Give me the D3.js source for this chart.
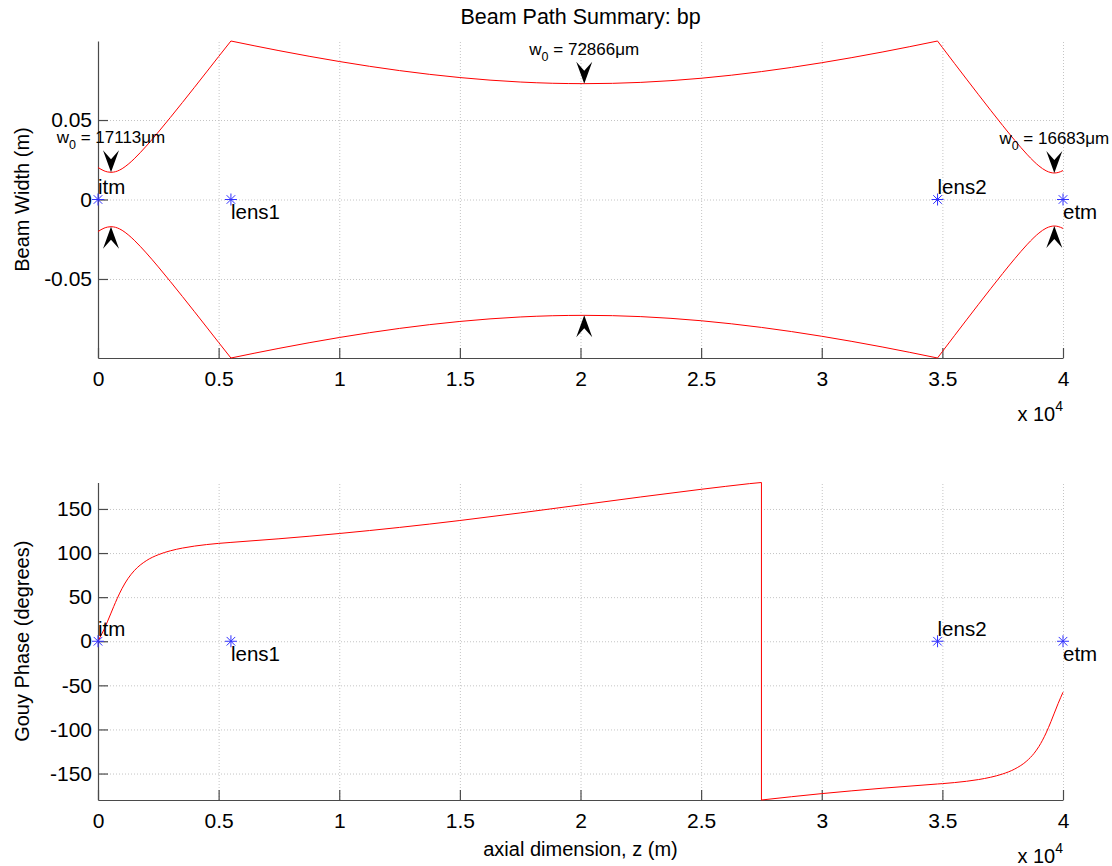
<!DOCTYPE html>
<html>
<head>
<meta charset="utf-8">
<script src="https://cdn.jsdelivr.net/npm/d3@7"></script>
<style>
body { margin: 0; background: #fff; }
svg text { font-family: "Liberation Sans", Arial, sans-serif; fill: #000; }
.grid line { stroke: #c4c4c4; stroke-dasharray: 1,2; }
.grid path { display: none; }
.ax path, .ax line { stroke: #4a4a4a; stroke-width: 1.2; }
</style>
</head>
<body>
<svg id="chart" width="1112" height="866"></svg>
<script>
//// beam path data (z in m, width in m, phase in degrees)
// itm -> lens1
const zSeg1 = [0, 250, 400, 539, 650, 800, 1000, 1250, 1500, 2000, 2500, 3000, 3500, 4000, 4500, 5000, 5510];
const wSeg1 = [0.02017, 0.01804, 0.01733, 0.01711, 0.01725, 0.01787, 0.01939, 0.02216, 0.02559, 0.03360, 0.04241, 0.05162, 0.06105, 0.07060, 0.08024, 0.08993, 0.09971];
const gouySeg1 = [0, 13.45, 22.80, 31.93, 39.25, 48.72, 59.99, 71.36, 79.95, 91.31, 98.13, 102.57, 105.65, 107.90, 109.62, 110.96, 112.06];

// lens1 -> lens2
const zSeg2 = [5510, 7500, 10000, 12500, 15000, 17500, 20155, 22500, 25000, 27500, 30000, 32500, 34800];
const wSeg2 = [0.09971, 0.09365, 0.08682, 0.08109, 0.07671, 0.07390, 0.07287, 0.07368, 0.07627, 0.08047, 0.08604, 0.09275, 0.09971];
const zGouy2 = [5510, 7500, 10000, 12500, 15000, 17500, 20155, 22500, 25000, 26000, 27000, 27500, 27500, 30000, 32500, 34800];
const gouySeg2 = [112.06, 116.20, 122.17, 129.08, 136.91, 145.50, 155.11, 163.62, 172.29, 175.56, 178.70, 180, -180, -172.76, -166.67, -161.84];

// lens2 -> etm
const zSeg3 = [34800, 35000, 35500, 36000, 36500, 37000, 37500, 38000, 38500, 38800, 39000, 39300, 39500, 39640, 39800, 40000];
const wSeg3 = [0.09966, 0.09566, 0.08568, 0.07575, 0.06589, 0.05613, 0.04654, 0.03724, 0.02853, 0.02386, 0.02115, 0.01805, 0.01692, 0.01668, 0.01700, 0.01821];
const gouySeg3 = [-161.84, -161.44, -160.25, -158.76, -156.81, -154.19, -150.47, -144.86, -135.69, -127.11, -119.39, -103.95, -91.15, -81.48, -70.46, -57.82];

// components and waists
const compNames = ["itm", "lens1", "lens2", "etm"];
const compZ = [0, 5510, 34800, 40000];
const waistZ = [539, 20155, 39640];
const waistW = [0.017113, 0.072866, 0.016683];

// ticks
const xTicks = [0, 5000, 10000, 15000, 20000, 25000, 30000, 35000, 40000];
const wTicks = [-0.05, 0, 0.05];
const gouyTicks = [-150, -100, -50, 0, 50, 100, 150];

//// layout
const left = 98, right = 1063;
const svg = d3.select("#chart");
const x = d3.scaleLinear().domain([0, 40000]).range([left, right]);
const wMax = d3.max([...wSeg1, ...wSeg2, ...wSeg3]);
const yTop = d3.scaleLinear().domain([-wMax, wMax]).range([358, 41]);
const yBot = d3.scaleLinear().domain([-180, 180]).range([800, 482.5]);

const zip = (zs, vs) => zs.map((z, i) => [z, vs[i]]);

const drawPanel = (y, ticks, label) => {
	const [y0, y1] = y.range();
	const g = svg.append("g");

	//// grid
	g.append("g").attr("class", "grid")
		.attr("transform", `translate(0,${y0})`)
		.call(d3.axisBottom(x).tickValues(xTicks).tickSize(-(y0 - y1)).tickFormat(""));
	g.append("g").attr("class", "grid")
		.attr("transform", `translate(${left},0)`)
		.call(d3.axisLeft(y).tickValues(ticks).tickSize(-(right - left)).tickFormat(""));

	//// axes, ticks point inward, plain hyphen for minus like the original
	g.append("g").attr("class", "ax")
		.attr("transform", `translate(0,${y0})`)
		.call(d3.axisBottom(x).tickValues(xTicks).tickSize(-10).tickSizeOuter(0).tickPadding(13)
			.tickFormat(d => String(d / 1e4)))
		.call(a => a.selectAll("text").style("font-size", "21px").attr("fill", "#000"));
	g.append("g").attr("class", "ax")
		.attr("transform", `translate(${left},0)`)
		.call(d3.axisLeft(y).tickValues(ticks).tickSize(-10).tickSizeOuter(0).tickPadding(6)
			.tickFormat(d => String(d)))
		.call(a => a.selectAll("text").style("font-size", "21px").attr("fill", "#000"));

	//// x 10^4
	const ex = g.append("text")
		.attr("x", right).attr("y", y0 + 62.5)
		.attr("text-anchor", "end")
		.style("font-size", "20px")
		.text("x 10");
	ex.append("tspan").attr("dy", -10).style("font-size", "14px").text("4");

	//// y label
	g.append("text")
		.attr("transform", `translate(29,${(y0 + y1) / 2}) rotate(-90)`)
		.attr("text-anchor", "middle")
		.style("font-size", "20px")
		.text(label);
	return g;
};

const line = d3.line().x(d => x(d[0])).y(d => d[1]).curve(d3.curveMonotoneX);
const addLine = (g, pts) => g.append("path")
	.attr("d", line(pts))
	.attr("fill", "none")
	.attr("stroke", "#ff0000")
	.attr("stroke-width", 1);

const star = "M-6,0H6M0,-6V6M-4.3,-4.3L4.3,4.3M-4.3,4.3L4.3,-4.3";
const addComponents = (g, y) => {
	compZ.forEach((z, i) => {
		g.append("path")
			.attr("d", star)
			.attr("transform", `translate(${x(z)},${y(0)})`)
			.attr("stroke", "#3030ff")
			.attr("stroke-width", 1)
			.attr("fill", "none");
		g.append("text")
			.attr("x", x(z))
			.attr("y", y(0) + (i % 2 === 0 ? -5.5 : 19.5))
			.style("font-size", "20.5px")
			.text(compNames[i]);
	});
};

//// title
svg.append("text")
	.attr("x", (left + right) / 2).attr("y", 23.5)
	.attr("text-anchor", "middle")
	.style("font-size", "21.5px")
	.text("Beam Path Summary: bp");

//// top panel: beam width
const gTop = drawPanel(yTop, wTicks, "Beam Width (m)");
[[zSeg1, wSeg1], [zSeg2, wSeg2], [zSeg3, wSeg3]].forEach(([zs, ws]) => {
	addLine(gTop, zip(zs, ws).map(([z, w]) => [z, yTop(w)]));
	addLine(gTop, zip(zs, ws).map(([z, w]) => [z, yTop(-w)]));
});
addComponents(gTop, yTop);

//// waist markers
const arrow = "M0,0L-8,-22L0,-13L8,-22Z";
waistZ.forEach((z, i) => {
	const w = waistW[i];
	gTop.append("path").attr("d", arrow).attr("fill", "#000")
		.attr("transform", `translate(${x(z)},${yTop(w)})`);
	gTop.append("path").attr("d", arrow).attr("fill", "#000")
		.attr("transform", `translate(${x(z)},${yTop(-w)}) scale(1,-1)`);
	const t = gTop.append("text")
		.attr("x", x(z)).attr("y", yTop(w) - 29)
		.attr("text-anchor", "middle")
		.style("font-size", "17px")
		.text("w");
	t.append("tspan").attr("dy", 6).style("font-size", "12.5px").text("0");
	t.append("tspan").attr("dy", -6).text(` = ${Math.round(w * 1e6)}\u03bcm`);
});

//// bottom panel: gouy phase
const gBot = drawPanel(yBot, gouyTicks, "Gouy Phase (degrees)");
addLine(gBot, zip(zSeg1, gouySeg1).map(([z, p]) => [z, yBot(p)]));
// split the wrapped segment where the phase jumps from +180 to -180
const pts2 = zip(zGouy2, gouySeg2);
const jump = pts2.findIndex((p, i) => i > 0 && p[0] === pts2[i - 1][0]);
addLine(gBot, pts2.slice(0, jump).map(([z, p]) => [z, yBot(p)]));
gBot.append("path")
	.attr("d", d3.line()([[x(pts2[jump - 1][0]), yBot(pts2[jump - 1][1])], [x(pts2[jump][0]), yBot(pts2[jump][1])]]))
	.attr("stroke", "#ff0000").attr("stroke-width", 1).attr("fill", "none");
addLine(gBot, pts2.slice(jump).map(([z, p]) => [z, yBot(p)]));
addLine(gBot, zip(zSeg3, gouySeg3).map(([z, p]) => [z, yBot(p)]));
addComponents(gBot, yBot);

svg.append("text")
	.attr("x", (left + right) / 2).attr("y", 856)
	.attr("text-anchor", "middle")
	.style("font-size", "20px")
	.text("axial dimension, z (m)");
</script>
</body>
</html>
